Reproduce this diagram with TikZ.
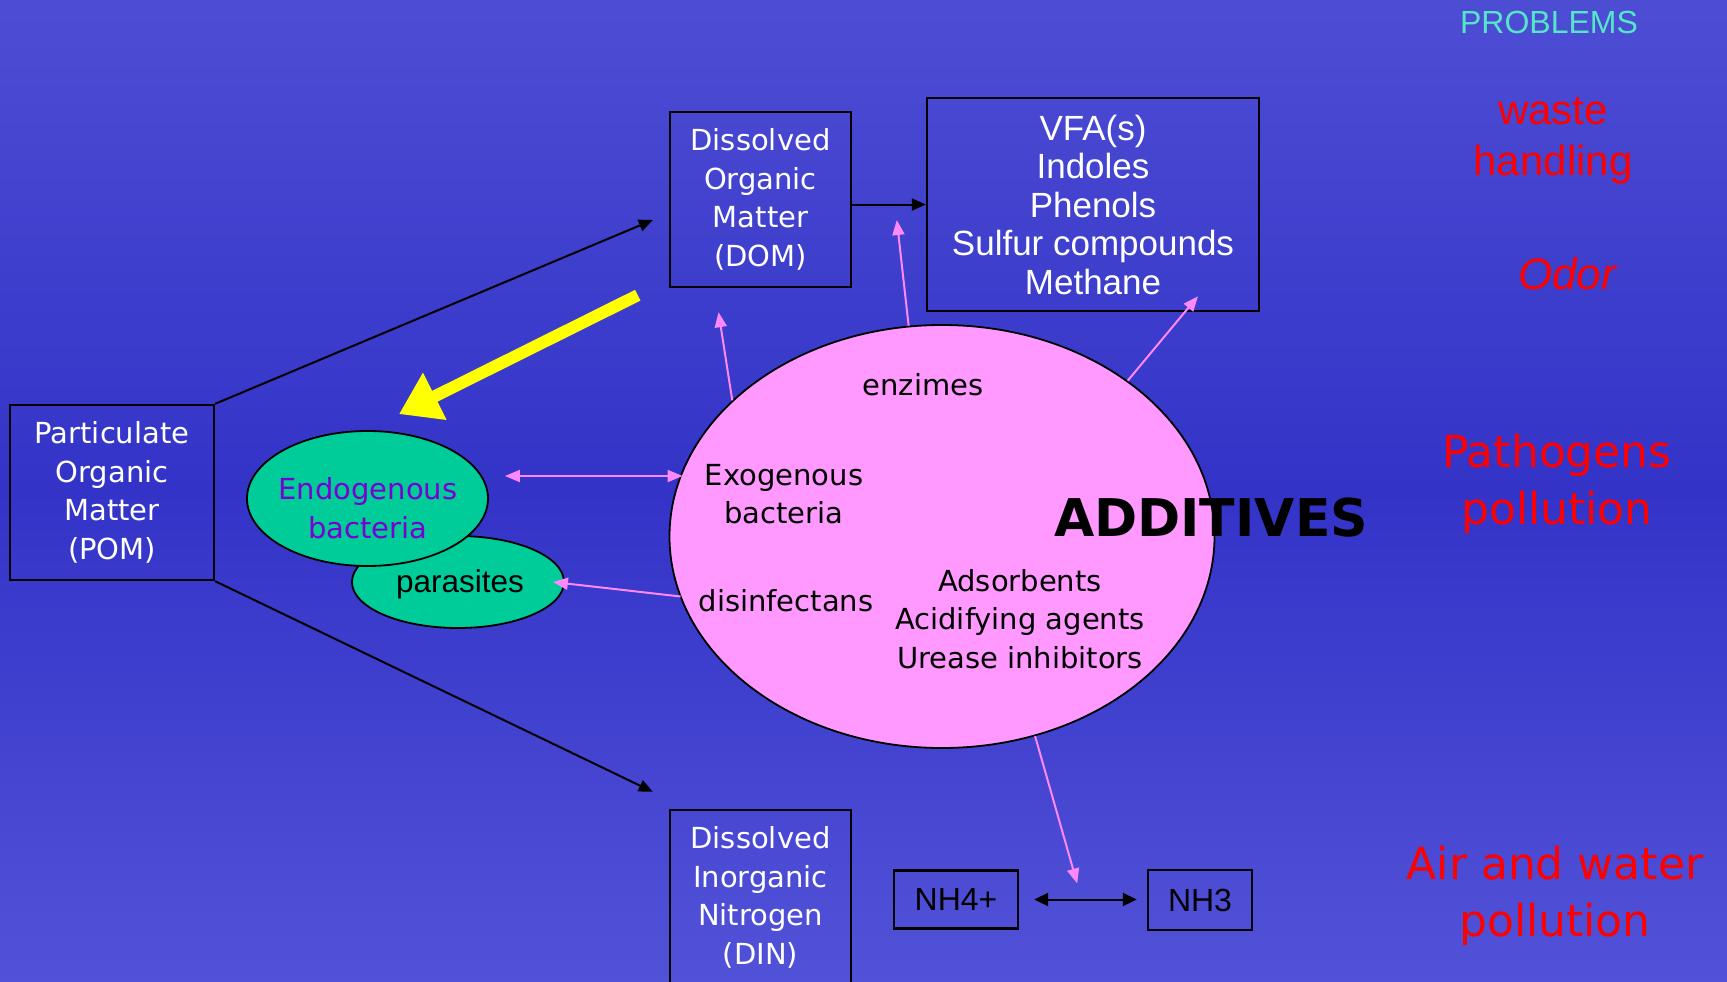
\documentclass[tikz,border=0pt]{standalone}
\usepackage{fontspec}
\setmainfont{DejaVu Sans}
\newfontfamily\arialf{Liberation Sans}
\usetikzlibrary{arrows.meta,shapes.geometric,calc}
\definecolor{bgtop}{RGB}{77,77,212}
\definecolor{bgmid}{RGB}{51,51,200}
\definecolor{bgbot}{RGB}{82,82,216}
\definecolor{pinkfill}{RGB}{255,153,255}
\definecolor{pinkarrow}{RGB}{255,136,255}
\definecolor{grn}{RGB}{0,204,153}
\definecolor{endopurple}{RGB}{120,0,210}
\definecolor{probcol}{RGB}{85,230,200}
\definecolor{yel}{RGB}{255,255,0}
\begin{document}
\begin{tikzpicture}[x=1pt,y=-1pt,
  box/.style={draw=black, line width=2.4pt, inner sep=0pt, align=center, text=white},
  comic/.style={font=\fontsize{29}{38.5}\selectfont, align=center},
  arialtext/.style={font=\arialf\fontsize{35}{38.5}\selectfont},
  blob/.style={ellipse, draw=black, line width=1.8pt, inner sep=0pt},
  blk/.style={draw=black, line width=2pt, -{Triangle[length=14pt,width=12pt]}},
  blkboth/.style={draw=black, line width=2pt, {Triangle[length=14pt,width=13pt]}-{Triangle[length=14pt,width=13pt]}},
  pk/.style={draw=pinkarrow, line width=2pt, -{Triangle[length=15pt,width=12pt]}},
  pkboth/.style={draw=pinkarrow, line width=2pt, {Triangle[length=15pt,width=12pt]}-{Triangle[length=15pt,width=12pt]}},
  yarrow/.style={draw=yel, line width=12pt, -{Triangle[length=40pt,width=50pt]}},
  redtext/.style={text=red, align=center}
]
\shade[top color=bgtop, bottom color=bgbot, middle color=bgmid] (0,0) rectangle (1727,982);
\useasboundingbox (0,0) rectangle (1727,982);
\clip (0,0) rectangle (1727,982);

% boxes
\node[box, comic, minimum width=181pt, minimum height=175pt] (dom) at (760.5,199.5) {\raisebox{-3pt}{\parbox{170pt}{\centering Dissolved\\Organic\\Matter\\(DOM)}}};
\node[box, arialtext, minimum width=332pt, minimum height=213pt] (vfa) at (1093,204.5) {VFA(s)\\Indoles\\Phenols\\Sulfur compounds\\Methane};
\node[box, comic, minimum width=204pt, minimum height=175pt] (pom) at (112,492.5) {\raisebox{-2pt}{\parbox{195pt}{\centering Particulate\\Organic\\Matter\\(POM)}}};
\node[box, comic, minimum width=181pt, minimum height=175pt] (din) at (760.5,897.5) {Dissolved\\Inorganic\\Nitrogen\\(DIN)};
\node[box, text=black, font=\arialf\fontsize{32}{36}\selectfont, minimum width=124pt, minimum height=58pt] (nh4) at (956,899.5) {NH4+};
\node[box, text=black, font=\arialf\fontsize{32}{36}\selectfont, minimum width=104pt, minimum height=60pt] (nh3) at (1200,900) {NH3};

% ellipses
\node[blob, fill=grn, minimum width=212pt, minimum height=92pt] (par) at (458,582) {};
\node[blob, fill=grn, minimum width=241pt, minimum height=135pt] (endo) at (367.5,498.5) {};
\node[blob, fill=pinkfill, minimum width=545pt, minimum height=423pt] (add) at (942,536.5) {};

% texts in ellipses
\node[font=\arialf\fontsize{31.5}{36}\selectfont] (partext) at (460,584) {parasites};
\node[comic, text=endopurple] (endotext) at (368,508) {Endogenous\\bacteria};
\node[comic] (enz) at (923,385) {enzimes};
\node[comic] (exo) at (784,494) {Exogenous\\bacteria};
\node[comic] (dis) at (786,601) {disinfectans};
\node[comic] (ads) at (1020,619) {Adsorbents\\Acidifying agents\\Urease inhibitors};
\node[font=\bfseries\fontsize{52}{60}\selectfont] (additives) at (1211,518) {ADDITIVES};

% right side
\node[font=\arialf\fontsize{32}{36}\selectfont, text=probcol] (prob) at (1549,22) {PROBLEMS};
\node[redtext, font=\arialf\fontsize{42}{51}\selectfont] (waste) at (1553,141) {waste\\handling};
\node[redtext, font=\arialf\itshape\fontsize{44}{50}\selectfont] (odor) at (1567,274) {Odor};
\node[redtext, font=\fontsize{44}{57}\selectfont] (path) at (1557,484) {Pathogens\\pollution};
\node[redtext, font=\fontsize{44}{57}\selectfont] (air) at (1555,896) {Air and water\\pollution};

% black connectors
\draw[blk] (pom.north east) -- ([xshift=-16pt,yshift=-20.5pt]dom.west);
\draw[blk] (pom.south east) -- ([xshift=-16pt,yshift=17pt]din.north west);
\draw[blk] (dom.east |- vfa.west) -- (vfa.west);
\draw[blkboth] ([xshift=15pt]nh4.east) -- ([xshift=-10pt]nh3.west |- nh4.east);

% pink connectors
\draw[pk] (add.147.5) -- ([xshift=-42pt,yshift=-24pt]dom.south);
\draw[pk] (add.99.4) -- ([xshift=-29pt,yshift=-15.5pt]vfa.west);
\draw[pk] (add.40.8) -- ([xshift=105pt,yshift=16pt]vfa.south);
\draw[pkboth] ([xshift=16pt,yshift=22.5pt]endo.east) -- ([xshift=14pt,yshift=60.5pt]add.west);
\draw[pk] ([xshift=12pt,yshift=-60pt]add.west) -- ([xshift=-12pt]par.east);
\draw[pk] (add.-65.7) -- ([xshift=58pt,yshift=16pt]nh4.east);

% yellow arrow
\draw[yarrow] ([xshift=-31pt,yshift=-7pt]dom.south west) -- ([xshift=31.5pt,yshift=16pt]endo.north);
\end{tikzpicture}
\end{document}
